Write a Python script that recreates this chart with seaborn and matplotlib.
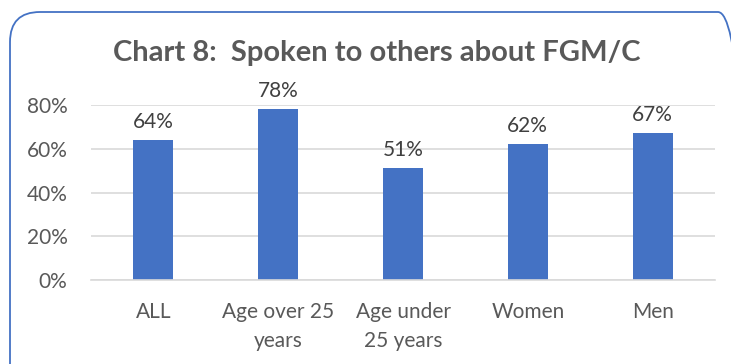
import matplotlib
matplotlib.use("Agg")
import matplotlib.pyplot as plt
import seaborn as sns
import pandas as pd
from matplotlib.patches import FancyBboxPatch

categories = ["ALL", "Age over 25\nyears", "Age under\n25 years", "Women", "Men"]
values = [0.64, 0.78, 0.51, 0.62, 0.67]
yticks = [0, 0.2, 0.4, 0.6, 0.8]
ytick_labels = ["0%", "20%", "40%", "60%", "80%"]
title = "Chart 8:  Spoken to others about FGM/C"

sns.set_theme(style="white")
plt.rcParams['font.family'] = ['Lato', 'DejaVu Sans']

df = pd.DataFrame({"cat": categories, "val": values})

fig = plt.figure(figsize=(7.31, 3.64), dpi=100)
ax = fig.add_axes([91/731, 1-280/364, (715-91)/731, (280-105)/364])

sns.barplot(data=df, x="cat", y="val", color="#4472C4", width=0.32, ax=ax, saturation=1)
for p in ax.patches:
    p.set_edgecolor("none")

ax.set_ylim(0, 0.8)
ax.set_yticks(yticks)
ax.set_yticklabels(ytick_labels, fontsize=15, color="#595959")
ax.tick_params(axis='x', labelsize=15, labelcolor="#595959", length=0, pad=16)
ax.tick_params(axis='y', length=0, pad=17)
for lbl in ax.get_xticklabels():
    lbl.set_linespacing(1.55)
ax.set_xlabel("")
ax.set_ylabel("")
ax.yaxis.grid(True, color="#d9d9d9", linewidth=1.2)
ax.set_axisbelow(True)
for s in ["top", "right", "left"]:
    ax.spines[s].set_visible(False)
ax.spines["bottom"].set_color("#d9d9d9")
ax.spines["bottom"].set_linewidth(1.2)
ax.set_xlim(-0.5, len(categories) - 0.5)

for i, v in enumerate(values):
    ax.annotate(f"{round(v*100)}%", (i, v), xytext=(0, 6), textcoords="offset points",
                ha="center", va="bottom", fontsize=15, color="#404040", annotation_clip=False)

fig.text(377/731, 1-53/364, title, ha="center", va="center", fontsize=21,
         fontweight="bold", color="#595959")

# rounded border (in inches), extending past right and bottom edges
box = FancyBboxPatch((0.10, -1.0), 7.38, 1.0 + (364 - 12) / 100,
                     boxstyle="round,pad=0,rounding_size=0.3",
                     transform=fig.dpi_scale_trans, fill=False,
                     edgecolor="#4472C4", linewidth=1.3)
fig.patches.append(box)

fig.savefig("out.png", dpi=100)
